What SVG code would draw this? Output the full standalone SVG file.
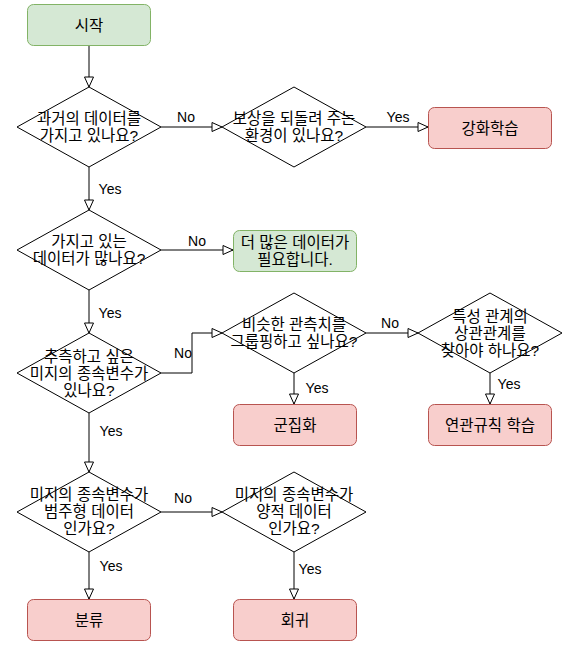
<svg xmlns="http://www.w3.org/2000/svg" width="568" height="655" viewBox="0 0 568 655">
<style>
text{font-family:"Liberation Sans","Noto Sans CJK KR",sans-serif;font-size:15.5px;fill:#000;text-anchor:middle;dominant-baseline:central}
.lbl{font-size:14px}
.green{fill:#d5e8d4;stroke:#82b366;stroke-width:1}
.red{fill:#f8cecc;stroke:#b85450;stroke-width:1}
.dia{fill:#fff;stroke:#000;stroke-width:1}
.edge{fill:none;stroke:#000;stroke-width:1;marker-end:url(#arr)}
</style>
<defs>
<marker id="arr" markerUnits="userSpaceOnUse" markerWidth="12" markerHeight="11" viewBox="-1 -1 12 11" refX="10" refY="4.5" orient="auto">
<path d="M0,0 L10,4.5 L0,9 Z" fill="#fff" stroke="#000" stroke-width="1"/>
</marker>
</defs>
<rect width="568" height="655" fill="#fff"/>
<g id="connectors">
<path class="edge" d="M89,45 V87"/>
<path class="edge" d="M161,127 H222"/>
<path class="edge" d="M366,127 H428"/>
<path class="edge" d="M89,167 V210"/>
<path class="edge" d="M161,250 H233"/>
<path class="edge" d="M89,290 V333"/>
<path class="edge" d="M161,373 H192 V333 H222"/>
<path class="edge" d="M366,333 H418"/>
<path class="edge" d="M294,373 V404"/>
<path class="edge" d="M490,373 V404"/>
<path class="edge" d="M89,413 V472"/>
<path class="edge" d="M161,512 H222"/>
<path class="edge" d="M89,552 V599"/>
<path class="edge" d="M294,552 V599"/>
<text class="lbl" x="186" y="117">No</text>
<text class="lbl" x="398" y="117">Yes</text>
<text class="lbl" x="110" y="189">Yes</text>
<text class="lbl" x="197" y="241">No</text>
<text class="lbl" x="110" y="313">Yes</text>
<text class="lbl" x="183" y="353">No</text>
<text class="lbl" x="390" y="323">No</text>
<text class="lbl" x="317" y="388">Yes</text>
<text class="lbl" x="509" y="384">Yes</text>
<text class="lbl" x="111" y="431">Yes</text>
<text class="lbl" x="183" y="498">No</text>
<text class="lbl" x="111" y="566">Yes</text>
<text class="lbl" x="310" y="569">Yes</text>
</g>
<g id="start">
<rect class="green" x="27.5" y="4.5" width="123" height="41" rx="6"/>
<text x="89" y="25">시작</text>
</g>
<g id="d1">
<path class="dia" d="M89,87 L161,127 L89,167 L17,127 Z"/>
<text x="89" y="118.5">과거의 데이터를</text>
<text x="89" y="135.5">가지고 있나요?</text>
</g>
<g id="d2">
<path class="dia" d="M294,87 L366,127 L294,167 L222,127 Z"/>
<text x="294" y="118.5">보상을 되돌려 주는</text>
<text x="294" y="135.5">환경이 있나요?</text>
</g>
<g id="rl">
<rect class="red" x="428.5" y="107.5" width="123" height="41" rx="6"/>
<text x="490" y="128">강화학습</text>
</g>
<g id="d3">
<path class="dia" d="M89,210 L161,250 L89,290 L17,250 Z"/>
<text x="89" y="241.5">가지고 있는</text>
<text x="89" y="258.5">데이터가 많나요?</text>
</g>
<g id="moredata">
<rect class="green" x="233.5" y="230.5" width="123" height="41" rx="6"/>
<text x="295" y="242">더 많은 데이터가</text>
<text x="295" y="259">필요합니다.</text>
</g>
<g id="d4">
<path class="dia" d="M89,333 L161,373 L89,413 L17,373 Z"/>
<text x="89" y="356">추측하고 싶은</text>
<text x="89" y="373">미지의 종속변수가</text>
<text x="89" y="390">있나요?</text>
</g>
<g id="d5">
<path class="dia" d="M294,293 L366,333 L294,373 L222,333 Z"/>
<text x="294" y="324.5">비슷한 관측치를</text>
<text x="294" y="341.5">그룹핑하고 싶나요?</text>
</g>
<g id="d6">
<path class="dia" d="M490,293 L562,333 L490,373 L418,333 Z"/>
<text x="490" y="316">특성 관계의</text>
<text x="490" y="333">상관관계를</text>
<text x="490" y="350">찾아야 하나요?</text>
</g>
<g id="cluster">
<rect class="red" x="233.5" y="404.5" width="123" height="41" rx="6"/>
<text x="295" y="425">군집화</text>
</g>
<g id="assoc">
<rect class="red" x="428.5" y="404.5" width="123" height="41" rx="6"/>
<text x="490" y="425">연관규칙 학습</text>
</g>
<g id="d7">
<path class="dia" d="M89,472 L161,512 L89,552 L17,512 Z"/>
<text x="89" y="494">미지의 종속변수가</text>
<text x="89" y="511">범주형 데이터</text>
<text x="89" y="528">인가요?</text>
</g>
<g id="d8">
<path class="dia" d="M294,472 L366,512 L294,552 L222,512 Z"/>
<text x="294" y="494">미지의 종속변수가</text>
<text x="294" y="511">양적 데이터</text>
<text x="294" y="528">인가요?</text>
</g>
<g id="classify">
<rect class="red" x="27.5" y="599.5" width="123" height="41" rx="6"/>
<text x="89" y="620">분류</text>
</g>
<g id="regress">
<rect class="red" x="233.5" y="599.5" width="123" height="41" rx="6"/>
<text x="295" y="620">회귀</text>
</g>
</svg>
